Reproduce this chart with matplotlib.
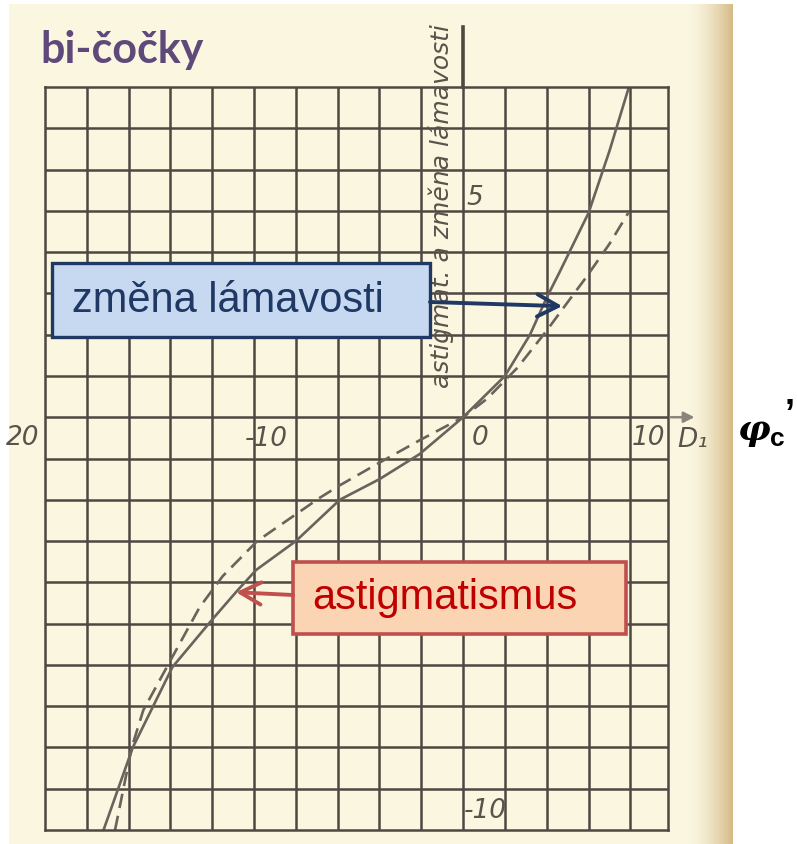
import numpy as np
import matplotlib
matplotlib.use('Agg')
import matplotlib.pyplot as plt
from matplotlib.patches import Rectangle

# curve readings (x: D1 diopters, 2 per grid cell; y: 1 per grid cell)
solid_x = [-17.2, -15.8, -13.9, -12.0, -10.8, -9.9, -8.0, -5.9, -4.0, -2.1,
           0.0, 2.0, 3.2, 4.0, 4.6, 6.0, 7.0, 7.9]
solid_y = [-10.0, -8.0, -6.05, -4.9, -4.2, -3.7, -3.0, -2.0, -1.5, -0.9,
           0.0, 1.0, 2.0, 2.9, 3.5, 4.95, 6.45, 7.95]
dashed_x = [-16.65, -15.85, -15.3, -13.9, -12.6, -11.5, -9.85, -6.85, -5.9, -4.0,
            -2.05, 0.0, 1.15, 2.6, 4.0, 4.8, 5.9, 7.0, 7.9]
dashed_y = [-10.0, -8.0, -7.1, -5.8, -4.6, -3.85, -3.0, -1.95, -1.65, -1.1,
            -0.55, 0.0, 0.45, 1.2, 2.1, 2.65, 3.4, 4.2, 4.95]

x_labels = ['20', '-10', '0', '10']
y_labels = ['5', '-10']
title = 'bi-čočky'
axis_label = 'astigmat. a změna lámavosti'
label_change = 'změna lámavosti'
label_astig = 'astigmatismus'

W, H = 797, 844
grid_col = '#4f4741'
curve_col = '#6a625b'
ink = '#5a524b'

fig = plt.figure(figsize=(W / 100, H / 100), dpi=100, facecolor='white')

# paper background (pixel coordinates)
bg = fig.add_axes([0, 0, 1, 1])
bg.set_xlim(0, W)
bg.set_ylim(H, 0)
bg.axis('off')
px = np.arange(9, 733)
t = np.clip((px - 688) / 44.0, 0, 1) ** 1.6
base = np.array([250, 246, 223]) / 255
edge = np.array([214, 186, 136]) / 255
grad = base[None, :] * (1 - t[:, None]) + edge[None, :] * t[:, None]
bg.imshow(grad[None, :, :], extent=[9, 733, H, 4], aspect='auto', zorder=0)

# graph paper axes
x0, x1, y0, y1 = -20, 9.8, -10, 8
ax = fig.add_axes([45 / W, (H - 830) / H, (668 - 45) / W, (830 - 87) / H])
ax.patch.set_alpha(0)
ax.set_xlim(x0, x1)
ax.set_ylim(y0, y1)
ax.set_xticks(np.arange(-18, 9, 2))
ax.set_yticks(np.arange(-9, 8, 1))
ax.tick_params(length=0, labelbottom=False, labelleft=False)
ax.grid(True, color=grid_col, lw=1.8)
for s in ax.spines.values():
    s.set_color(grid_col)
    s.set_linewidth(1.8)

# axes extensions
ax.plot([0, 0], [8, 9.45], color=grid_col, lw=2.6, clip_on=False)
ax.annotate('', xy=(11.2, 0), xytext=(9.8, 0),
            arrowprops=dict(arrowstyle='-|>', color='#8d847b', lw=1.8,
                            mutation_scale=16), annotation_clip=False)

# curves
ax.plot(solid_x, solid_y, color=curve_col, lw=1.9, solid_joinstyle='round')
ax.plot(dashed_x, dashed_y, color=curve_col, lw=1.9, ls=(0, (5.5, 3)))

# handwritten labels
hand = dict(color=ink, style='italic', fontsize=19, family='DejaVu Sans',
            ha='center', va='center')
for lab, (xx, yy) in zip(x_labels, [(-21.05, -0.5), (-9.43, -0.53), (0.81, -0.5), (8.85, -0.5)]):
    ax.text(xx, yy, lab, clip_on=False, **hand)
for lab, (xx, yy) in zip(y_labels, [(0.55, 5.3), (1.05, -9.55)]):
    ax.text(xx, yy, lab, clip_on=False, **hand)
ax.text(10.96, -0.55, 'D₁', clip_on=False, **hand)
ax.text(-1.05, 5.11, axis_label, rotation=90, color=ink, style='italic',
        fontsize=18, family='DejaVu Sans', ha='center', va='center')

# overlay with callouts
ov = fig.add_axes([0, 0, 1, 1])
ov.set_xlim(0, W)
ov.set_ylim(H, 0)
ov.axis('off')

ov.text(40, 63, title, fontsize=31, fontweight='bold', color='#5f497a',
        family=['Lato', 'DejaVu Sans'], ha='left', va='baseline')

head = '->,head_length=0.75,head_width=0.4'
ov.add_patch(Rectangle((52, 263), 378, 74, facecolor='#c6d9f1',
                       edgecolor='#1f3864', lw=2.4, zorder=3))
ov.text(72, 301, label_change, fontsize=30, color='#1f3864',
        family='Liberation Sans', ha='left', va='center', zorder=4)
ov.annotate('', xy=(4.74, 2.69), xycoords=ax.transData, xytext=(430, 302),
            textcoords=ov.transData,
            arrowprops=dict(arrowstyle=head, color='#1f3864', lw=2.8,
                            shrinkA=0, shrinkB=0, mutation_scale=20),
            zorder=5)

ov.add_patch(Rectangle((293, 562), 333, 72, facecolor='#fbd4b4',
                       edgecolor='#c0504d', lw=2.6, zorder=3))
ov.text(312, 598, label_astig, fontsize=30, color='#c00000',
        family='Liberation Sans', ha='left', va='center', zorder=4)
ov.annotate('', xy=(-10.86, -4.24), xycoords=ax.transData, xytext=(293, 595),
            textcoords=ov.transData,
            arrowprops=dict(arrowstyle=head, color='#c0504d', lw=2.8,
                            shrinkA=0, shrinkB=0, mutation_scale=20),
            zorder=5)

# phi_c'
ov.text(737, 430, 'φ', fontsize=26, fontweight='bold', style='italic',
        color='black', family='DejaVu Serif', ha='left', va='center')
ov.text(770, 439, 'c', fontsize=19, fontweight='bold', color='black',
        family='Liberation Sans', ha='left', va='center')
ov.text(785, 416, '’', fontsize=26, fontweight='bold', color='black',
        family='Liberation Sans', ha='left', va='center')

fig.savefig('out.png', dpi=100, facecolor='white')
plt.close(fig)
